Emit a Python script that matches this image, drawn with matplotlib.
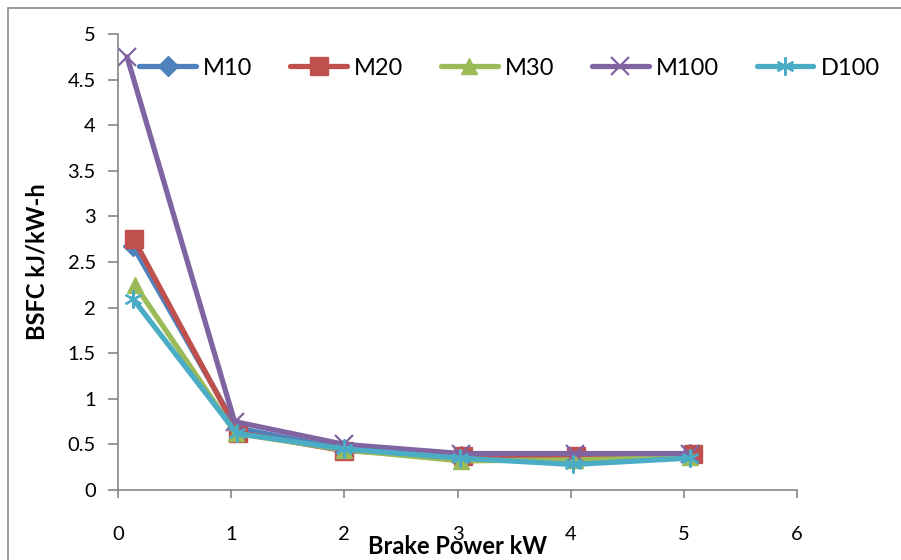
import matplotlib.pyplot as plt
import matplotlib.patches as mpatches

plt.rcParams['font.family'] = ['Lato', 'DejaVu Sans']

# BSFC against brake power for each blend
series = ["M10", "M20", "M30", "M100", "D100"]
x_m10 = [0.13, 1.05, 2.0, 3.03, 4.04, 5.05]
x_m20 = [0.14, 1.06, 2.0, 3.05, 4.05, 5.08]
x_m30 = [0.15, 1.04, 2.0, 3.03, 4.04, 5.05]
x_m100 = [0.08, 1.03, 2.0, 3.03, 4.04, 5.05]
x_d100 = [0.13, 1.05, 2.0, 3.02, 4.02, 5.05]
bsfc_m10 = [2.68, 0.68, 0.45, 0.37, 0.35, 0.40]
bsfc_m20 = [2.75, 0.63, 0.43, 0.37, 0.37, 0.40]
bsfc_m30 = [2.25, 0.62, 0.44, 0.32, 0.33, 0.36]
bsfc_m100 = [4.75, 0.75, 0.50, 0.40, 0.40, 0.40]
bsfc_d100 = [2.10, 0.62, 0.45, 0.35, 0.28, 0.35]

colors = ["#4F81BD", "#C0504D", "#9BBB59", "#8064A2", "#4BACC6"]
markers = ["D", "s", "^", "x", "*"]

fig = plt.figure(figsize=(9.01, 5.6), dpi=100)
ax = fig.add_axes([0.131, 0.125, 0.7536, 0.814])

# chart border
fig.patches.append(mpatches.Rectangle((8 / 901, -0.1), 1.1, 1.1 - 8 / 560,
                                      transform=fig.transFigure, fill=False,
                                      edgecolor="#8a8a8a", linewidth=1.2))

xs = [x_m10, x_m20, x_m30, x_m100, x_d100]
ys = [bsfc_m10, bsfc_m20, bsfc_m30, bsfc_m100, bsfc_d100]
msizes = [10, 13, 12, 13, 13]
for name, x, y, c, m, ms in zip(series, xs, ys, colors, markers, msizes):
    kw = dict(marker=m, markersize=ms, color=c, linewidth=3.8, label=name,
              solid_joinstyle="round", solid_capstyle="round")
    if m in ("x", "*"):
        kw.update(markeredgewidth=1.6)
        if m == "*":
            kw.update(marker=(6, 2, 0))
    ax.plot(x, y, **kw)

ax.set_xlim(0, 6)
ax.set_ylim(0, 5)
ax.set_xticks(range(0, 7))
ax.set_yticks([0, 0.5, 1, 1.5, 2, 2.5, 3, 3.5, 4, 4.5, 5])
ax.set_yticklabels(["0", "0.5", "1", "1.5", "2", "2.5", "3", "3.5", "4", "4.5", "5"])

for s in ("top", "right"):
    ax.spines[s].set_visible(False)
for s in ("left", "bottom"):
    ax.spines[s].set_color("#868686")
    ax.spines[s].set_linewidth(1.2)
ax.tick_params(axis="x", direction="out", length=6, width=1.2, color="#868686",
               pad=20, labelsize=14.5)
ax.tick_params(axis="y", direction="out", length=7, width=1.2, color="#868686",
               pad=9, labelsize=14.5)

ax.set_xlabel("Brake Power kW", fontsize=17, fontweight="bold", labelpad=-6)
ax.set_ylabel("BSFC kJ/kW-h", fontsize=17, fontweight="bold", labelpad=14)

ax.legend(loc="upper left", bbox_to_anchor=(0.0, 0.995), ncol=5, frameon=False,
          fontsize=17, handlelength=2.4, columnspacing=1.6, handletextpad=0.3)

fig.savefig("out.png", dpi=100)
